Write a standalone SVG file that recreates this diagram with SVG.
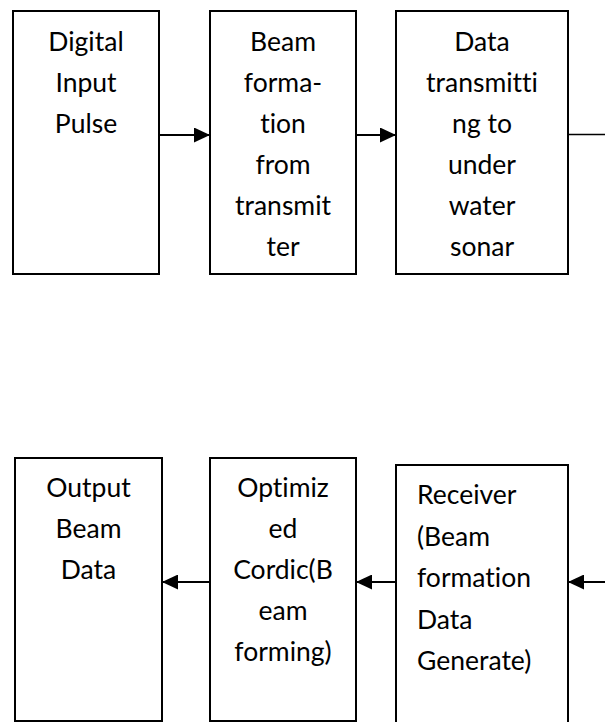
<svg xmlns="http://www.w3.org/2000/svg" width="605" height="722" viewBox="0 0 605 722">
<defs>
<style>
.box{fill:#fff;stroke:#000;stroke-width:2}
.t{font-family:Lato,"Open Sans","Liberation Sans",sans-serif;font-size:26.5px;fill:#000;font-variant-ligatures:none;font-feature-settings:"liga" 0,"clig" 0}
.c{text-anchor:middle}
.ln{stroke:#000;stroke-width:2;fill:none}
</style>
<marker id="ah" viewBox="0 0 16 15" refX="16" refY="7.5" markerWidth="16" markerHeight="15" markerUnits="userSpaceOnUse" orient="auto">
<path d="M0,0 L16,7.5 L0,15 Z" fill="#000"/>
</marker>
</defs>
<rect width="605" height="722" fill="#fff"/>
<g id="connectors">
<line class="ln" x1="159" y1="135" x2="210" y2="135" marker-end="url(#ah)"/>
<line class="ln" x1="356" y1="135" x2="396" y2="135" marker-end="url(#ah)"/>
<line x1="568" y1="134.5" x2="605" y2="134.5" stroke="#000" stroke-width="1.3"/>
<line class="ln" x1="605" y1="582" x2="568" y2="582" marker-end="url(#ah)"/>
<line class="ln" x1="396" y1="582" x2="356" y2="582" marker-end="url(#ah)"/>
<line class="ln" x1="210" y1="582" x2="162" y2="582" marker-end="url(#ah)"/>
</g>
<g id="n1">
<rect class="box" x="13" y="11" width="146" height="263"/>
<text class="t c" x="86"><tspan x="86" y="51">Digital</tspan><tspan x="86" y="92">Input</tspan><tspan x="86" y="133">Pulse</tspan></text>
</g>
<g id="n2">
<rect class="box" x="210" y="11" width="146" height="263"/>
<text class="t c"><tspan x="283" y="51">Beam</tspan><tspan x="283" y="92">forma-</tspan><tspan x="283" y="133">tion</tspan><tspan x="283" y="174">from</tspan><tspan x="283" y="215">transmit</tspan><tspan x="283" y="256">ter</tspan></text>
</g>
<g id="n3">
<rect class="box" x="396" y="11" width="172" height="263"/>
<text class="t c"><tspan x="482" y="51">Data</tspan><tspan x="482" y="92">transmitti</tspan><tspan x="482" y="133">ng to</tspan><tspan x="482" y="174">under</tspan><tspan x="482" y="215">water</tspan><tspan x="482" y="256">sonar</tspan></text>
</g>
<g id="n4">
<rect class="box" x="15" y="458" width="147" height="263"/>
<text class="t c"><tspan x="88.5" y="497">Output</tspan><tspan x="88.5" y="538">Beam</tspan><tspan x="88.5" y="579">Data</tspan></text>
</g>
<g id="n5">
<rect class="box" x="210" y="458" width="146" height="263"/>
<text class="t c"><tspan x="283" y="497">Optimiz</tspan><tspan x="283" y="538">ed</tspan><tspan x="283" y="579">Cordic(B</tspan><tspan x="283" y="620">eam</tspan><tspan x="283" y="661">forming)</tspan></text>
</g>
<g id="n6">
<path class="box" d="M396,723 L396,465 L568,465 L568,723"/>
<text class="t"><tspan x="417" y="504">Receiver</tspan><tspan x="417" y="545.5">(Beam</tspan><tspan x="417" y="587">formation</tspan><tspan x="417" y="628.5">Data</tspan><tspan x="417" y="670">Generate)</tspan></text>
</g>
</svg>
